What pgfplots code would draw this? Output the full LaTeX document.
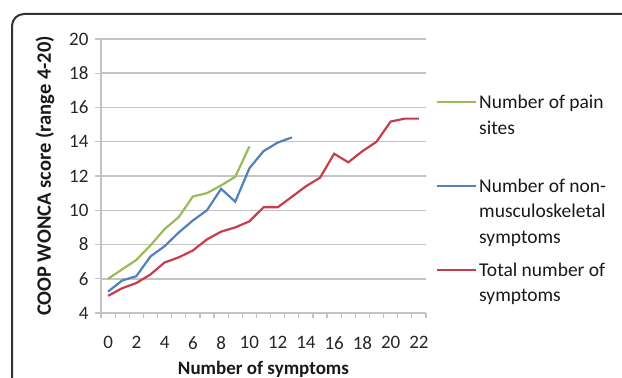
\documentclass[border=0pt]{standalone}
\usepackage{pgfplots}
\pgfplotsset{compat=1.18}
\usepackage{fontspec}
\setmainfont{Carlito}
\definecolor{xlgreen}{RGB}{155,187,89}
\definecolor{xlblue}{RGB}{79,129,189}
\definecolor{xlred}{RGB}{200,60,75}
\definecolor{gridgray}{RGB}{195,195,195}
\begin{document}
\begin{tikzpicture}[x=1pt,y=1pt]
\useasboundingbox (0,0) rectangle (622,378);
\draw[line width=2pt, black!80, rounded corners=12pt] (12,-5) -- (12,364) -- (640,364);
\begin{axis}[
  at={(101pt,65pt)}, anchor=south west,
  scale only axis, width=325pt, height=274pt,
  xmin=-0.5, xmax=22.5, ymin=4, ymax=20,
  axis x line*=bottom, axis y line*=left,
  axis line style={gridgray, line width=1.2pt, -},
  xtick={0,2,...,22}, minor xtick={-0.5,0.5,...,22.5},
  ytick={4,6,...,20},
  ymajorgrids,
  major grid style={gridgray, line width=1.5pt},
  tick align=outside,
  major tick length=6pt, minor tick length=5pt,
  every major x tick/.append style={draw=none},
  tick style={gridgray, line width=1.2pt},
  /pgf/number format/assume math mode=true,
  tick label style={font=\fontsize{19}{21}\selectfont, text=black!85},
  yticklabel style={xshift=-3pt},
  xticklabel style={yshift=-14pt},
  xlabel={Number of symptoms},
  ylabel={COOP WONCA score (range 4-20)},
  xlabel style={font=\bfseries\fontsize{19}{21}\selectfont, text=black!90, at={(axis description cs:0.5,0)}, anchor=center, yshift=-56pt},
  ylabel style={font=\bfseries\fontsize{20.5}{22}\selectfont, text=black!90, at={(axis description cs:0,0.5)}, anchor=center, yshift=56pt},
]
\addplot[xlgreen, line width=2.2pt] coordinates {
(0,6.0)(1,6.55)(2,7.1)(3,7.95)(4,8.9)(5,9.6)(6,10.8)(7,11.0)(8,11.45)(9,11.95)(10,13.72)};
\addplot[xlblue, line width=2.2pt] coordinates {
(0,5.25)(1,5.9)(2,6.15)(3,7.3)(4,7.9)(5,8.7)(6,9.4)(7,10.0)(8,11.25)(9,10.5)(10,12.45)(11,13.45)(12,13.95)(13,14.25)};
\addplot[xlred, line width=2.2pt] coordinates {
(0,5.0)(1,5.45)(2,5.75)(3,6.25)(4,6.95)(5,7.25)(6,7.65)(7,8.3)(8,8.75)(9,9.0)(10,9.35)(11,10.17)(12,10.17)(13,10.78)(14,11.4)(15,11.9)(16,13.3)(17,12.8)(18,13.45)(19,14.0)(20,15.18)(21,15.35)(22,15.35)};
\end{axis}
% legend
\begin{scope}[every node/.style={anchor=base west, inner sep=0pt, font=\fontsize{19.5}{22}\selectfont, text=black!90}]
\draw[xlgreen, line width=2.2pt] (437,275.7) -- (476,275.7);
\node at (479,269.4) {Number of pain};
\node at (479,243.9) {sites};
\draw[xlblue, line width=2.2pt] (437,192) -- (476,192);
\node at (479,185.7) {Number of non-};
\node at (479,160.2) {musculoskeletal};
\node at (479,134.7) {symptoms};
\draw[xlred, line width=2.2pt] (437,108) -- (476,108);
\node at (479,101.7) {Total number of};
\node at (479,76.2) {symptoms};
\end{scope}
\end{tikzpicture}
\end{document}
